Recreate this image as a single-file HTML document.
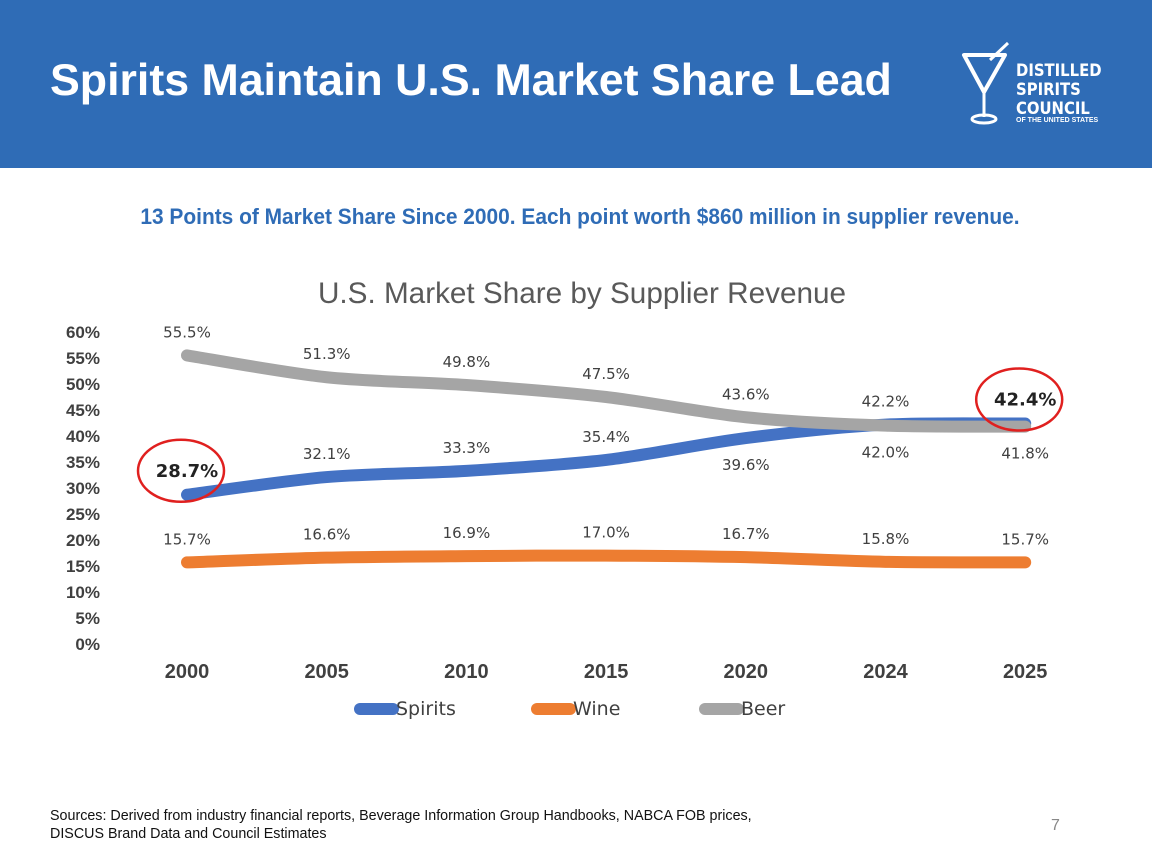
<!DOCTYPE html>
<html><head><meta charset="utf-8">
<style>
html,body{margin:0;padding:0;width:1152px;height:862px;overflow:hidden;background:#fff;font-family:"Liberation Sans",sans-serif;}
#header{position:absolute;left:0;top:0;width:1152px;height:168px;background:#2f6cb6;}
#title{position:absolute;left:50px;top:56px;color:#fff;font-weight:bold;font-size:44.7px;white-space:nowrap;}
#subtitle{position:absolute;left:0;width:1160px;top:204px;text-align:center;color:#2f6cb6;font-weight:bold;font-size:22px;transform:scaleX(0.95);white-space:nowrap;}
#sources{position:absolute;left:50px;top:807px;font-size:14.3px;color:#111;line-height:18px;white-space:nowrap;}
#page-num{position:absolute;left:1051px;top:817px;font-size:16px;color:#888;}
svg{position:absolute;left:0;top:0;}
</style></head><body>
<div id="header"></div>
<div id="title">Spirits Maintain U.S. Market Share Lead</div>
<svg width="1152" height="862">
  <path d="M964 55 L1005 55 L984 92 Z" fill="none" stroke="#fff" stroke-width="4" stroke-linejoin="round"/>
  <line x1="984" y1="92" x2="984" y2="117" stroke="#fff" stroke-width="3"/>
  <ellipse cx="984" cy="119" rx="12" ry="4" fill="none" stroke="#fff" stroke-width="3"/>
  <line x1="990" y1="60" x2="1008" y2="43" stroke="#fff" stroke-width="3"/>
  <text x="1016" y="76" fill="#fff" font-weight="bold" font-size="16.5" font-family="DejaVu Sans Condensed,Liberation Sans,sans-serif">DISTILLED</text>
  <text x="1016" y="95" fill="#fff" font-weight="bold" font-size="16.5" font-family="DejaVu Sans Condensed,Liberation Sans,sans-serif">SPIRITS</text>
  <text x="1016" y="114" fill="#fff" font-weight="bold" font-size="16.5" font-family="DejaVu Sans Condensed,Liberation Sans,sans-serif">COUNCIL</text>
  <text x="1016" y="122" fill="#fff" font-weight="bold" font-size="7" font-family="Liberation Sans,sans-serif">OF THE UNITED STATES</text>
</svg>
<div id="subtitle">13 Points of Market Share Since 2000. Each point worth $860 million in supplier revenue.</div>
<svg id="chart" width="1152" height="862"></svg>
<div id="sources">Sources: Derived from industry financial reports, Beverage Information Group Handbooks, NABCA FOB prices,<br>DISCUS Brand Data and Council Estimates</div>
<div id="page-num">7</div>
<script>
const categories=["2000","2005","2010","2015","2020","2024","2025"];
const spirits=[28.7,32.1,33.3,35.4,39.6,42.2,42.4];
const wine=[15.7,16.6,16.9,17.0,16.7,15.8,15.7];
const beer=[55.5,51.3,49.8,47.5,43.6,42.0,41.8];
const yTicks=[0,5,10,15,20,25,30,35,40,45,50,55,60];
const spiritsLabelSide=["above","above","above","above","below","above","above"];
const beerLabelSide=["above","above","above","above","above","below","below"];
const NS="http://www.w3.org/2000/svg";
const svg=document.getElementById('chart');
const x=i=>187+i*139.7;
const y=v=>644-v*5.2;
function mk(t,a,txt){const e=document.createElementNS(NS,t);for(const k in a)e.setAttribute(k,a[k]);if(txt!==undefined)e.textContent=txt;svg.appendChild(e);return e;}
let t=mk('text',{x:582,y:303,'text-anchor':'middle','font-size':29.7,fill:'#595959'},'U.S. Market Share by Supplier Revenue');


yTicks.forEach(v=>{const e=mk('text',{x:100,y:y(v)+6,'text-anchor':'end','font-size':17,'font-weight':'bold',fill:'#404040'},v+'%');

});
categories.forEach((c,i)=>{const e=mk('text',{x:x(i),y:678,'text-anchor':'middle','font-size':20,'font-weight':'bold',fill:'#404040'},c);

});
function path(vals){let d='M'+x(0)+' '+y(vals[0]);for(let i=0;i<vals.length-1;i++){const p0=i>0?i-1:i,p3=i+2<vals.length?i+2:i+1;const k=0.15;
const c1x=x(i)+(x(i+1)-x(p0))*k,c1y=y(vals[i])+(y(vals[i+1])-y(vals[p0]))*k;
const c2x=x(i+1)-(x(p3)-x(i))*k,c2y=y(vals[i+1])-(y(vals[p3])-y(vals[i]))*k;
d+=` C${c1x} ${c1y} ${c2x} ${c2y} ${x(i+1)} ${y(vals[i+1])}`;}return d;}
function series(vals,color,name){const e=mk('path',{d:path(vals),fill:'none',stroke:color,'stroke-width':12,'stroke-linecap':'round','stroke-linejoin':'round'});

}
series(spirits,'#4472c4','spirits-line');
series(wine,'#ed7d31','wine-line');
series(beer,'#a5a5a5','beer-line');
function labels(vals,sides,name,boldIdx){vals.forEach((v,i)=>{const above=sides[i]==='above';const b=boldIdx.includes(i);
const e=mk('text',{x:x(i),y:y(v)+(above?-18:32),'text-anchor':'middle','font-size':b?18:15,'font-weight':b?'bold':'normal',fill:b?'#222':'#404040','font-family':'DejaVu Sans,sans-serif'},v.toFixed(1)+'%');

});}
labels(spirits,spiritsLabelSide,'spirits-value-label',[0,6]);
labels(wine,wine.map(()=>'above'),'wine-value-label',[]);
labels(beer,beerLabelSide,'beer-value-label',[]);
[[0,spirits],[6,spirits]].forEach(([i,s])=>{const e=mk('ellipse',{cx:x(i)-6,cy:y(s[i])-24,rx:43,ry:31,fill:'none',stroke:'#e0201f','stroke-width':2.5});

});
[['Spirits','#4472c4',360],['Wine','#ed7d31',537],['Beer','#a5a5a5',705]].forEach(([n,c,lx])=>{
const g=mk('line',{x1:lx,y1:709,x2:lx+33,y2:709,stroke:c,'stroke-width':12,'stroke-linecap':'round'});


const e=mk('text',{x:lx+36,y:715,'font-size':19,fill:'#404040','font-family':'DejaVu Sans,sans-serif'},n);

});
</script>
</body></html>
